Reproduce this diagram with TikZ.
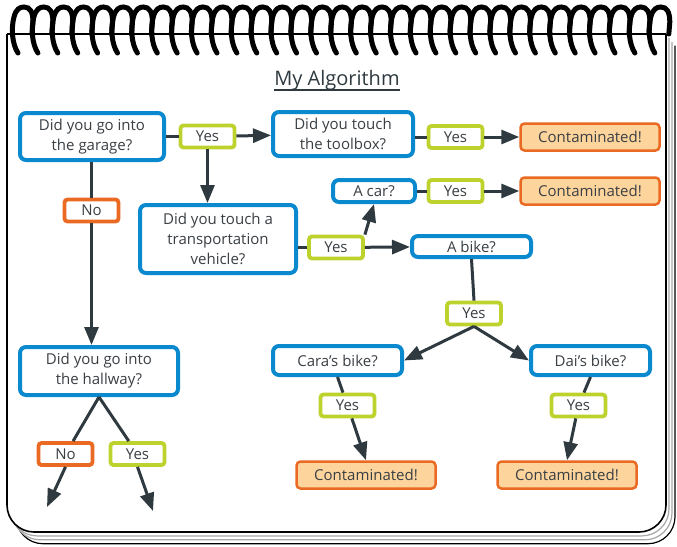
\documentclass[tikz,border=0pt]{standalone}
\usepackage{fontspec}
\setmainfont{Open Sans}
\usetikzlibrary{arrows.meta}
\definecolor{qblue}{HTML}{0A89CE}
\definecolor{ygreen}{HTML}{BED22E}
\definecolor{norange}{HTML}{EA6A23}
\definecolor{cfill}{HTML}{FDD49C}
\definecolor{ink}{HTML}{2F3A40}
\definecolor{txt}{HTML}{3A3F44}
\begin{document}
\begin{tikzpicture}[x=1pt,y=-1pt,
  base/.style={align=center, font=\fontsize{15}{20}\selectfont, text=txt, inner sep=0pt},
  qbox/.style={base, draw=qblue, line width=4pt, rounded corners=6pt, fill=white},
  ybox/.style={base, draw=ygreen, line width=3.8pt, rounded corners=3pt, fill=white, minimum width=54pt, minimum height=22pt},
  nbox/.style={ybox, draw=norange},
  cbox/.style={base, draw=norange, fill=cfill, line width=2.5pt, rounded corners=4pt, minimum width=139pt, minimum height=27pt},
  conn/.style={draw=ink, line width=3pt},
  arr/.style={conn, -{Triangle[length=18pt,width=14pt]}},
  pageline/.style={line width=1.2pt, fill=white, rounded corners=27pt},
  coil/.style={line width=5pt, line cap=round, black},
]
\useasboundingbox (0,0) rectangle (677,546);

% stacked pages
\foreach \o/\c in {9/black,6/gray!70,3/gray!70}{
  \draw[pageline, draw=\c, shift={(\o,1.3*\o)}] (7,34) -- (7,532) -- (666,532) -- (666,34);
}
% main page
\fill[white] (7,34) rectangle (666,60);
\draw[pageline, draw=black, line width=1.6pt] (7,34) -- (7,532) -- (666,532) -- (666,34);
\draw[black, line width=1.6pt] (7,34) -- (666,34);

% spiral coils
\foreach \i in {0,...,32}{
  \pgfmathsetmacro\c{23+19.9*\i}
  \draw[coil] (\c-5,53) .. controls (\c-11,44) and (\c-12,28) .. (\c-9,17)
     .. controls (\c-7,9) and (\c-3,7) .. (\c+1,7)
     .. controls (\c+7,7) and (\c+10,12) .. (\c+10,22) -- (\c+9,34);
}

% title
\node[font=\fontsize{20}{24}\selectfont, text=ink, inner sep=0pt, anchor=base] (title) at (337,85) {My Algorithm};
\draw[ink, line width=2pt] ([yshift=-5pt]title.base west) -- ([yshift=-5pt]title.base east);

% nodes
\node[qbox, minimum width=144pt, minimum height=47pt] (q1) at (92,136.5) {Did you go into\\the garage?};
\node[ybox] (yes1) at (207.5,136.5) {Yes};
\node[qbox, minimum width=140pt, minimum height=44pt] (q2) at (343,134) {Did you touch\\the toolbox?};
\node[ybox] (yes2) at (455.5,137) {Yes};
\node[cbox] (c1) at (590,137) {Contaminated!};
\node[nbox] (no1) at (91.5,210.5) {No};
\node[qbox, minimum width=156pt, minimum height=68pt] (q3) at (218,239) {Did you touch a\\transportation\\vehicle?};
\node[qbox, minimum width=82pt, minimum height=22pt] (car) at (374,191) {A car?};
\node[ybox] (yes3) at (455.5,191) {Yes};
\node[cbox] (c2) at (590,191) {Contaminated!};
\node[ybox] (yes4) at (336,247.5) {Yes};
\node[qbox, minimum width=119pt, minimum height=21pt] (bike) at (471.5,246.5) {A bike?};
\node[ybox] (yes5) at (474,313.5) {Yes};
\node[qbox, minimum width=129pt, minimum height=29pt] (cara) at (337.5,360.5) {Cara’s bike?};
\node[qbox, minimum width=119pt, minimum height=29pt] (dai) at (590.5,360.5) {Dai’s bike?};
\node[ybox] (yes6) at (347.5,405.5) {Yes};
\node[ybox] (yes7) at (578.5,405.5) {Yes};
\node[cbox] (c3) at (366,475) {Contaminated!};
\node[cbox] (c4) at (567,475) {Contaminated!};
\node[qbox, minimum width=158pt, minimum height=48pt] (q4) at (99,371) {Did you go into\\the hallway?};
\node[nbox] (no2) at (65.5,454) {No};
\node[ybox] (yes8) at (137.5,454) {Yes};
\coordinate (e1) at (47,507);
\coordinate (e2) at (153,511);

% connectors
\draw[conn] (q1) -- (yes1);
\draw[arr] (yes1) -- (q2);
\draw[arr] (yes1.south) -- (yes1.south |- q3.north);
\draw[conn] (q1.south -| no1) -- (no1);
\draw[arr] (no1.south) -- (no1.south |- q4.north);
\draw[conn] (yes2.west -| q2.east) -- (yes2.west);
\draw[arr] (yes2) -- (c1);
\draw[conn] (yes4.west -| q3.east) -- (yes4.west);
\draw[arr] (yes4) -- (bike);
\draw[arr] (yes4.north east) -- (car.south);
\draw[conn] (car) -- (yes3);
\draw[arr] (yes3) -- (c2);
\draw[conn] (bike.south) -- (yes5.north);
\draw[arr] (yes5.south) -- (cara.east);
\draw[arr] (yes5.south) -- (dai.west);
\draw[conn] (cara.south) -- (yes6);
\draw[arr] (yes6) -- (c3.north);
\draw[conn] (dai.south) -- (yes7);
\draw[arr] (yes7) -- (c4.north);
\draw[conn] (q4.south) -- (no2);
\draw[arr] (no2.south) -- (e1);
\draw[conn] (q4.south) -- (yes8);
\draw[arr] (yes8.south) -- (e2);
\end{tikzpicture}
\end{document}
